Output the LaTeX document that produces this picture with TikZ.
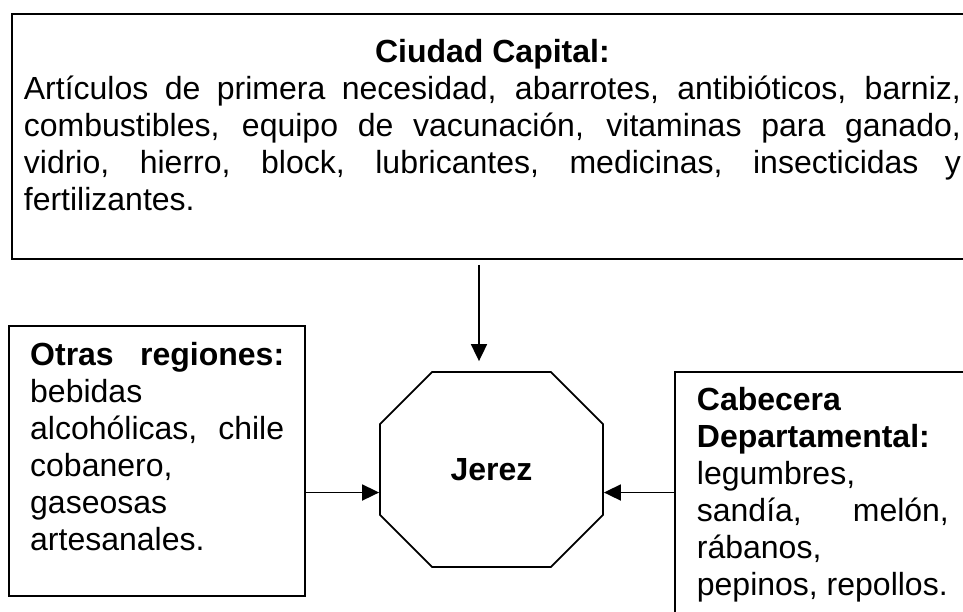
\documentclass[tikz,border=0pt]{standalone}
\usepackage{fontspec}
\setmainfont{Liberation Sans}
\usetikzlibrary{arrows.meta, positioning, shapes.misc}

\tikzset{
  caja/.style={draw, line width=1.8pt, rectangle, align=justify, inner ysep=0pt,
    font=\fontsize{32}{37}\selectfont},
  flecha/.style={-{Triangle[length=17pt,width=16pt]}, line width=1.8pt}
}
\hbadness=10000

\begin{document}
\begin{tikzpicture}[x=1pt,y=-1pt]
  \useasboundingbox (0,0) rectangle (963,611);

  \node (jerez) [draw, line width=1.8pt, chamfered rectangle, chamfered rectangle sep=57pt,
    minimum width=223pt, minimum height=195pt, inner sep=0pt,
    font=\fontsize{32}{37}\selectfont\bfseries] at (491.5,469.5) {Jerez};

  \node (capital) [caja, anchor=north west, text width=937pt, inner xsep=12pt,
    text height=49pt, text depth=196pt] at (11,13)
    {\noindent\hfill\textbf{Ciudad Capital:}\hfill\null\linebreak
     Artículos de primera necesidad, abarrotes, antibióticos, barniz,\linebreak
     combustibles, equipo de vacunación, vitaminas para ganado,\linebreak
     vidrio, hierro, block, lubricantes, medicinas, insecticidas y\linebreak
     fertilizantes.};

  \node (otras) [caja, left=73pt of jerez.west, yshift=8.5pt, text width=254pt,
    inner xsep=21pt, text height=39pt, text depth=231pt]
    {\noindent\textbf{Otras regiones:}\linebreak
     bebidas\newline
     alcohólicas, chile\linebreak
     cobanero,\newline
     gaseosas\newline
     artesanales.};

  \node (cabecera) [caja, anchor=north west, text width=252pt, inner xsep=22pt,
    text height=39pt, text depth=215pt] at (674,371)
    {\noindent\textbf{Cabecera}\newline
     \textbf{Departamental:}\newline
     legumbres,\newline
     sandía, melón,\linebreak
     rábanos,\newline
     pepinos, repollos.};

  \coordinate (tope) at ([xshift=-12.5pt,yshift=10pt]jerez.north);
  \coordinate (izq) at ([yshift=-23pt]jerez.west);
  \coordinate (der) at ([yshift=-23pt]jerez.east);

  \draw[flecha] ([yshift=-5pt]capital.south -| tope) -- (tope);
  \draw[flecha] (otras.east |- izq) -- (izq);
  \draw[flecha] (cabecera.west |- der) -- (der);
\end{tikzpicture}
\end{document}
